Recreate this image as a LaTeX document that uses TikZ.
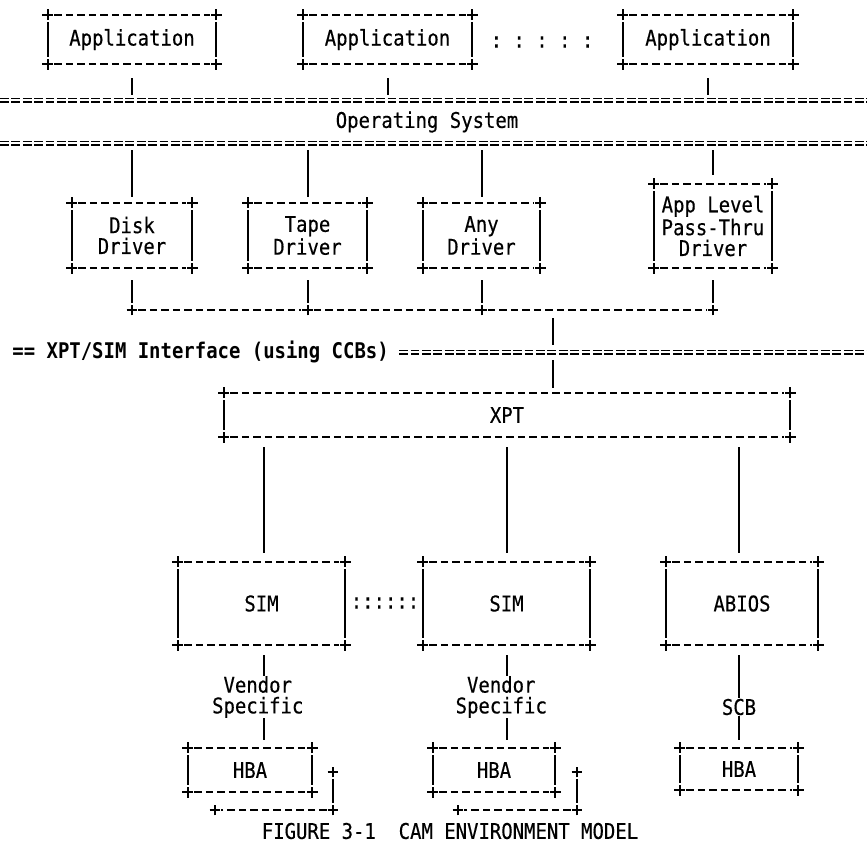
\documentclass[tikz,border=0pt]{standalone}
\usepackage{fontspec}
\setmonofont[FakeStretch=0.877, UprightFeatures={FakeBold=0.35}]{DejaVu Sans Mono}
\usetikzlibrary{positioning}

% small "+" corner mark and an ascii style box round a named node
\newcommand{\plusmark}[1]{%
  \draw[plusline] ([xshift=-2.7pt]#1) -- ([xshift=2.7pt]#1)
                  ([yshift=-2.7pt]#1) -- ([yshift=2.7pt]#1);}
\newcommand{\plusbox}[1]{%
  \draw[dashline] ([xshift=3.4pt]#1.north west) -- ([xshift=-3.4pt]#1.north east);
  \draw[dashline] ([xshift=3.4pt]#1.south west) -- ([xshift=-3.4pt]#1.south east);
  \draw[solidline] ([yshift=-3.8pt]#1.north west) -- ([yshift=3.8pt]#1.south west);
  \draw[solidline] ([yshift=-3.8pt]#1.north east) -- ([yshift=3.8pt]#1.south east);
  \foreach \corner in {north west,north east,south west,south east}{\plusmark{#1.\corner}}}

\begin{document}
\begin{tikzpicture}[x=0.5pt, y=-0.5pt,
  txt/.style={font=\ttfamily\fontsize{10.8}{10.4}\selectfont, inner sep=0pt, align=center},
  dashline/.style={line width=1.05pt, dash pattern=on 3.6pt off 2.15pt},
  solidline/.style={line width=1pt},
  plusline/.style={line width=1pt},
  eqline/.style={double=white, double distance=1.1pt, line width=0.7pt, dash pattern=on 4.4pt off 1.3pt}]

\path[fill=white, use as bounding box] (0,0) rectangle (867,843);

% applications
\node[txt, minimum width=84pt, minimum height=24.5pt] (app1) at (132,39.5) {Application};
\node[txt, minimum width=84.5pt, minimum height=24.5pt] (app2) at (387.5,39.5) {Application};
\node[txt, minimum width=85pt, minimum height=24.5pt] (app3) at (708,39.5) {Application};
\node[txt] (dots) at (542,42) {:~:~:~:~:};
\plusbox{app1} \plusbox{app2} \plusbox{app3}

% operating system
\coordinate (osA) at (0,100);
\coordinate (osB) at (867,100);
\coordinate (osC) at (0,143);
\coordinate (osD) at (867,143);
\node[txt] (os) at (427,122) {Operating System};
\draw[eqline] (osA) -- (osB);
\draw[eqline] (osC) -- (osD);
\foreach \n in {app1,app2,app3}
  \draw[solidline, shorten <=7pt, shorten >=2.5pt] (\n.south) -- (\n.south |- osA);

% drivers
\node[txt, minimum width=60pt, minimum height=32.5pt] (disk) at (132,235.5) {Disk\\Driver};
\node[txt, minimum width=59.5pt, minimum height=32.5pt] (tape) at (307.5,235.5) {Tape\\Driver};
\node[txt, minimum width=58.5pt, minimum height=32.5pt] (anydrv) at (481.5,235.5) {Any\\Driver};
\node[txt, minimum width=59pt, minimum height=42pt] (pass) at (713,226) {App Level\\Pass-Thru\\Driver};
\plusbox{disk} \plusbox{tape} \plusbox{anydrv} \plusbox{pass}
\foreach \n in {disk,tape,anydrv}
  \draw[solidline, shorten <=3.5pt, shorten >=3pt] (\n.north |- osC) -- (\n.north);
\draw[solidline, shorten <=3.5pt, shorten >=4.5pt] (pass.north |- osC) -- (pass.north);

% driver bus
\coordinate (bus) at (0,310);
\coordinate (j1) at (disk.south |- bus);
\coordinate (j2) at (tape.south |- bus);
\coordinate (j3) at (anydrv.south |- bus);
\coordinate (j4) at (pass.south |- bus);
\coordinate (j5) at (553,310);
\foreach \n/\j in {disk/j1,tape/j2,anydrv/j3,pass/j4}{
  \draw[solidline, shorten <=6pt, shorten >=3.5pt] (\n.south) -- (\j);
  \plusmark{\j}
}
\draw[dashline, shorten <=3.2pt, shorten >=3.2pt] (j1) -- (j2);
\draw[dashline, shorten <=3.2pt, shorten >=3.2pt] (j2) -- (j3);
\draw[dashline, shorten <=3.2pt, shorten >=3.2pt] (j3) -- (j4);

% xpt/sim interface
\node[txt, font=\ttfamily\bfseries\fontsize{10.8}{10.4}\selectfont, anchor=west] (ifc) at (12,352) {== XPT/SIM Interface (using CCBs)};
\coordinate (ifx) at (553,352);
\draw[eqline] ([xshift=5pt]ifc.east) -- (ifc.east -| osB);
\draw[solidline, shorten <=4pt, shorten >=3.5pt] (j5) -- (ifx);

% xpt
\node[txt, minimum width=283pt, minimum height=22pt] (xpt) at (507,415) {XPT};
\plusbox{xpt}
\draw[solidline, shorten <=4pt, shorten >=2.5pt] (ifx) -- (ifx |- xpt.north);

% sims
\node[txt, minimum width=83.5pt, minimum height=41.5pt] (sim1) at (261.5,603.5) {SIM};
\node[txt, minimum width=83.5pt, minimum height=41.5pt] (sim2) at (506.5,603.5) {SIM};
\node[txt, minimum width=76pt, minimum height=41.5pt] (abios) at (742,603.5) {ABIOS};
\node[txt] (colons) at (385,603) {::::::};
\plusbox{sim1} \plusbox{sim2} \plusbox{abios}

% links below sims
\node[txt] (vs1) at (257.75,697) {Vendor\\Specific};
\node[txt] (vs2) at (501.25,697) {Vendor\\Specific};
\node[txt] (scb) at (739,707) {SCB};
\coordinate (v1t) at ([xshift=2.9pt]vs1.north);
\coordinate (v1b) at ([xshift=2.9pt]vs1.south);
\coordinate (v2t) at ([xshift=2.9pt]vs2.north);
\coordinate (v2b) at ([xshift=2.9pt]vs2.south);

\draw[solidline, shorten <=5pt, shorten >=4.5pt] (v1t |- xpt.south) -- (v1t |- sim1.north);
\draw[solidline, shorten <=5pt, shorten >=4.5pt] (v2t |- xpt.south) -- (v2t |- sim2.north);
\draw[solidline, shorten <=5pt, shorten >=4.5pt] (scb.north |- xpt.south) -- (scb.north |- abios.north);

% hbas
\node[txt, minimum width=62pt, minimum height=22pt] (hba1) at (250,770) {HBA};
\node[txt, minimum width=61pt, minimum height=22pt] (hba2) at (494,770) {HBA};
\node[txt, minimum width=59pt, minimum height=21pt] (hba3) at (739,769) {HBA};
\plusbox{hba1} \plusbox{hba2} \plusbox{hba3}

\draw[solidline, shorten <=5pt] (v1t |- sim1.south) -- (v1t);
\draw[solidline, shorten >=4pt] (v1b) -- (v1b |- hba1.north);
\draw[solidline, shorten <=5pt] (v2t |- sim2.south) -- (v2t);
\draw[solidline, shorten >=4pt] (v2b) -- (v2b |- hba2.north);
\draw[solidline, shorten <=5pt] (scb.north |- abios.south) -- (scb.north);
\draw[solidline, shorten >=4pt] (scb.south) -- (scb.south |- hba3.north);

% stacked hba marks
\coordinate (s1a) at (333,772);
\coordinate (s1b) at (333,810);
\coordinate (s1c) at (215,810);
\coordinate (s2a) at (577,772);
\coordinate (s2b) at (577,810);
\coordinate (s2c) at (458,810);
\foreach \a/\b/\c in {s1a/s1b/s1c,s2a/s2b/s2c}{
  \plusmark{\a} \plusmark{\b} \plusmark{\c}
  \draw[solidline, shorten <=3.4pt, shorten >=3.4pt] (\a) -- (\b);
  \draw[dashline, shorten <=3.2pt, shorten >=3.2pt] (\b) -- (\c);
}

\node[txt] (caption) at (450,831) {FIGURE 3-1~~CAM ENVIRONMENT MODEL};

\end{tikzpicture}
\end{document}
